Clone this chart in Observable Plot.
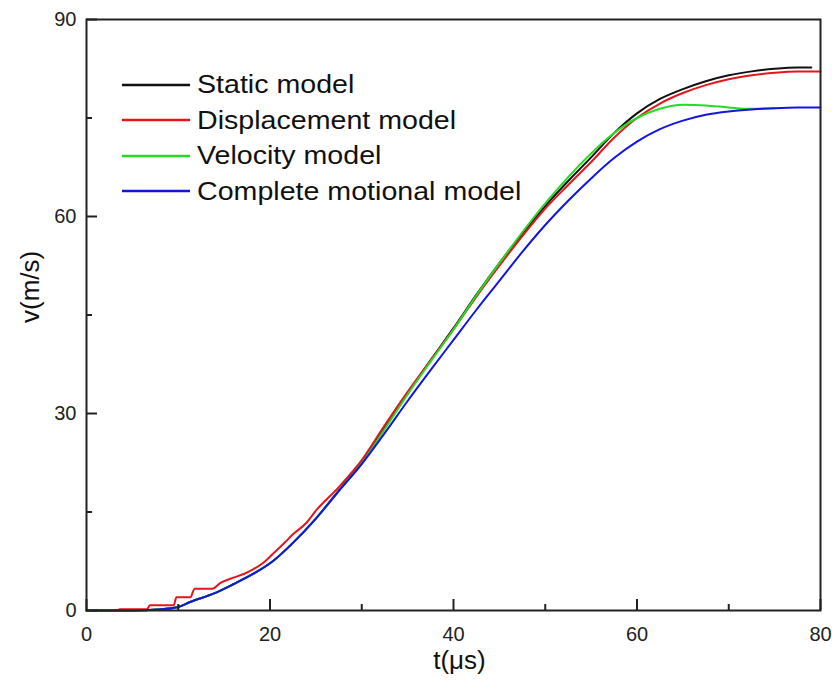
<!DOCTYPE html>
<html><head><meta charset="utf-8">
<script src="https://cdn.jsdelivr.net/npm/d3@7"></script>
<script src="https://cdn.jsdelivr.net/npm/@observablehq/plot@0.6"></script>
<style>
body{margin:0;background:#fff;font-family:"Liberation Sans",Arial,sans-serif;}
#wrap{position:relative;width:832px;height:682px;}
#legend{position:absolute;left:122px;top:67px;}
.row{display:flex;align-items:center;height:35.5px;font-size:26px;color:#111;white-space:nowrap;}
.row svg{margin-right:7px;flex:none;}
.row span{display:inline-block;transform:scaleX(1.1);transform-origin:left center;}
</style></head><body><div id="wrap"><div id="legend"></div></div>
<script>
const seriesNames = ["Static model", "Displacement model", "Velocity model", "Complete motional model"];
const seriesColors = ["#111111", "#e8141c", "#22dd22", "#1414e0"];

const staticT = [0,5,7.7,9.9,11.3,13.9,16,18.2,20.3,22.5,25,27.5,30,32.5,35,37.5,40,42.5,45,47.5,50,52.5,55,57.5,60,62.5,65,67.5,70,72.5,75,77.5,79];
const staticV = [0,0,0.15,0.5,1.3,2.6,4.0,5.6,7.5,10.3,14.0,18.3,22.6,27.9,33.1,38.1,43.0,48.1,52.9,57.4,61.6,65.4,69.0,72.7,75.7,77.9,79.4,80.6,81.5,82.1,82.5,82.7,82.7];

const dispT = [0,3.4,3.6,6.6,6.9,9.5,9.8,11.3,11.8,13.7,14.6,16,17.2,18.2,19.2,20.3,21.5,22.5,24,25,27.5,30,32.5,35,37.5,40,42.5,45,47.5,50,52.5,55,57.5,60,62.5,65,67.5,70,72.5,75,77.5,80];
const dispV = [0,0,0.2,0.2,0.8,0.8,2.0,2.0,3.3,3.3,4.2,5.0,5.6,6.3,7.2,8.6,10.2,11.6,13.4,15.2,18.8,22.9,28.2,33.3,38.1,42.8,47.8,52.5,57.0,61.2,64.8,68.3,72.0,75.0,77.2,78.8,80.0,80.9,81.5,81.9,82.1,82.1];

const velT = [0,5,7.7,9.9,11.3,13.9,16,18.2,20.3,22.5,25,27.5,30,32.5,35,37.5,40,42.5,45,47.5,50,52.5,55,57.5,60,62.5,65,67.5,70,72.5,75];
const velV = [0,0,0.15,0.5,1.3,2.6,4.0,5.6,7.5,10.3,14.0,18.2,22.4,27.6,32.9,37.9,42.8,48.0,52.9,57.6,62.0,66.0,69.6,72.7,75.0,76.4,77.0,76.9,76.6,76.4,76.5];

const compT = [0.7,5,7.7,9.9,11.3,13.9,16,18.2,20.3,22.5,25,27.5,30,32.5,35,37.5,40,42.5,45,47.5,50,52.5,55,57.5,60,62.5,65,67.5,70,72.5,75,77.5,80];
const compV = [0,0,0.15,0.5,1.3,2.6,4.0,5.6,7.5,10.3,14.0,18.2,22.3,27.0,31.9,36.6,41.2,45.8,50.2,54.6,58.7,62.4,65.8,68.9,71.4,73.3,74.6,75.5,76.0,76.3,76.5,76.6,76.6];

const xMajor = [0,20,40,60,80];
const xMinor = [10,30,50,70];
const yMajor = [0,30,60,90];
const yMinor = [15,45,75];
const xLabel = "t(μs)";
const yLabel = "v(m/s)";

const seriesData = [[staticT, staticV], [dispT, dispV], [velT, velV], [compT, compV]];
const rows = [];
seriesData.forEach(([ts, vs], i) => ts.forEach((t, j) => rows.push({series: seriesNames[i], t, v: vs[j]})));

const W = 832, H = 682, mL = 86, mR = 12, mT = 19, mB = 72;
const plotW = W - mL - mR, plotH = H - mT - mB;
const axisColor = "#222";

const chart = Plot.plot({
  width: W, height: H,
  marginLeft: mL, marginRight: mR, marginTop: mT, marginBottom: mB,
  style: {fontFamily: "'Liberation Sans', Arial, sans-serif", fontSize: "20px", color: "#222", background: "#fff", overflow: "visible"},
  x: {domain: [0, 80]},
  y: {domain: [0, 90]},
  color: {domain: seriesNames, range: seriesColors},
  marks: [
    Plot.line(rows, {x: "t", y: "v", z: "series", stroke: "series", strokeWidth: 2, curve: "monotone-x"}),
    Plot.frame({stroke: axisColor, strokeWidth: 2}),
    Plot.tickX(xMajor, {x: d => d, insetTop: plotH - 11, stroke: axisColor, strokeWidth: 2}),
    Plot.tickX(xMinor, {x: d => d, insetTop: plotH - 6, stroke: axisColor, strokeWidth: 2}),
    Plot.tickY(yMajor, {y: d => d, insetRight: plotW - 11, stroke: axisColor, strokeWidth: 2}),
    Plot.tickY(yMinor, {y: d => d, insetRight: plotW - 6, stroke: axisColor, strokeWidth: 2}),
    Plot.axisX({ticks: xMajor, tickSize: 0, tickPadding: 16, label: null, fontSize: 20}),
    Plot.axisY({ticks: yMajor, tickSize: 0, tickPadding: 10, label: null, fontSize: 20}),
    Plot.text([xLabel], {text: d => d, frameAnchor: "bottom", dx: 6, dy: 58, fontSize: 26, fill: "#111"}),
    Plot.text([yLabel], {text: d => d, frameAnchor: "left", dx: -56, dy: 8, rotate: -90, fontSize: 26, fill: "#111"})
  ]
});
document.getElementById("wrap").prepend(chart);

const legend = document.getElementById("legend");
seriesNames.forEach((name, i) => {
  const row = document.createElement("div");
  row.className = "row";
  row.innerHTML = `<svg width="68" height="4"><line x1="0" x2="68" y1="2" y2="2" stroke="${seriesColors[i]}" stroke-width="2.5"/></svg><span>${name}</span>`;
  legend.appendChild(row);
});
</script></body></html>
